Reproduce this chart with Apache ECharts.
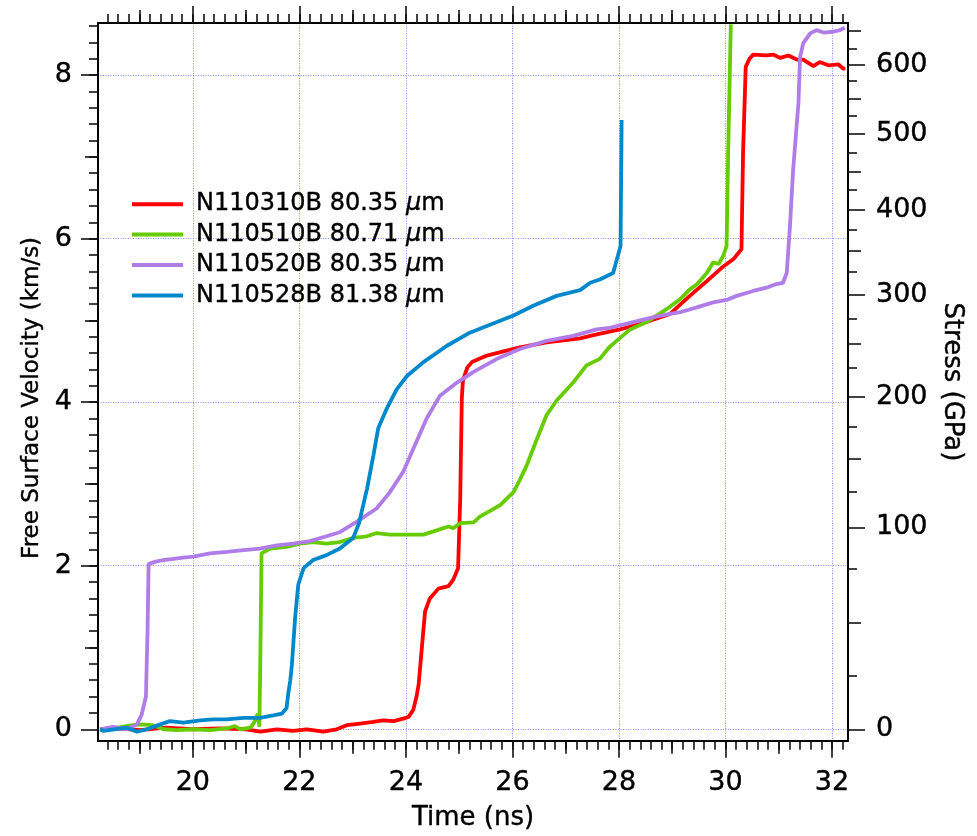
<!DOCTYPE html>
<html>
<head>
  <meta charset="utf-8">
  <title>Free surface velocity</title>
  <style>
    html, body { margin: 0; padding: 0; background: #fff; }
  </style>
</head>
<body>
  <div id="main" style="width: 977px;height:836px;"></div>
</body>
<script src="https://cdn.jsdelivr.net/npm/echarts@6/dist/echarts.min.js"></script>
<script>
  // series names and colours
  let names = ['N110310B 80.35 μm', 'N110510B 80.71 μm', 'N110520B 80.35 μm', 'N110528B 81.38 μm'];
  let colors = ['#ff0000', '#66cc00', '#b07ce8', '#0088cc'];

  // [time (ns), free surface velocity (km/s)]
  let red = [[18.26,0.0],[18.6,0.01],[19.0,-0.01],[19.5,0.02],[20.0,0.0],[20.5,0.01],[21.0,0.0],[21.27,-0.03],[21.58,0.0],[21.88,-0.02],[22.14,0.0],[22.45,-0.03],[22.7,0.0],[22.89,0.05],[23.14,0.07],[23.39,0.09],[23.57,0.11],[23.77,0.1],[23.95,0.13],[24.05,0.15],[24.14,0.24],[24.2,0.4],[24.24,0.55],[24.3,1.0],[24.36,1.44],[24.45,1.6],[24.61,1.72],[24.8,1.75],[24.89,1.83],[24.98,1.97],[25.02,2.82],[25.05,4.04],[25.07,4.26],[25.15,4.42],[25.24,4.49],[25.52,4.57],[25.89,4.63],[26.14,4.67],[26.64,4.73],[27.27,4.78],[27.58,4.83],[28.02,4.89],[28.52,4.98],[28.96,5.08],[29.33,5.3],[29.65,5.48],[29.96,5.66],[30.15,5.75],[30.3,5.87],[30.33,7.05],[30.38,8.1],[30.45,8.2],[30.52,8.25],[30.77,8.24],[30.9,8.25],[31.03,8.21],[31.18,8.24],[31.34,8.19],[31.46,8.19],[31.65,8.11],[31.77,8.16],[31.93,8.12],[32.12,8.13],[32.21,8.08],[32.25,8.08]];
  let green = [[18.26,0.0],[18.5,0.01],[18.76,0.04],[19.01,0.06],[19.25,0.05],[19.45,0.0],[19.7,-0.01],[20.01,0.0],[20.32,-0.01],[20.64,0.01],[20.79,0.04],[20.89,0.0],[21.08,0.02],[21.15,0.08],[21.22,0.19],[21.25,0.03],[21.27,1.0],[21.29,2.15],[21.45,2.21],[21.76,2.23],[22.01,2.27],[22.26,2.29],[22.51,2.27],[22.76,2.29],[23.01,2.34],[23.27,2.36],[23.45,2.4],[23.7,2.38],[24.33,2.38],[24.52,2.42],[24.8,2.48],[24.89,2.46],[25.02,2.52],[25.27,2.53],[25.39,2.6],[25.77,2.74],[26.02,2.9],[26.14,3.05],[26.27,3.23],[26.46,3.55],[26.64,3.84],[26.83,4.02],[27.14,4.24],[27.39,4.45],[27.64,4.53],[27.83,4.68],[28.21,4.89],[28.52,4.98],[28.9,5.14],[29.15,5.26],[29.33,5.38],[29.46,5.44],[29.65,5.58],[29.77,5.71],[29.87,5.69],[29.96,5.79],[30.02,5.91],[30.05,7.05],[30.1,8.62]];
  let purple = [[18.26,0.0],[18.5,0.03],[18.76,0.0],[18.95,0.06],[19.04,0.18],[19.12,0.4],[19.15,1.2],[19.17,2.02],[19.3,2.05],[19.45,2.07],[19.6,2.08],[19.82,2.1],[20.01,2.11],[20.32,2.15],[20.64,2.17],[20.95,2.19],[21.26,2.21],[21.58,2.25],[21.89,2.27],[22.2,2.3],[22.51,2.36],[22.76,2.41],[23.08,2.54],[23.45,2.7],[23.7,2.9],[23.95,3.15],[24.14,3.43],[24.39,3.8],[24.64,4.08],[24.96,4.24],[25.27,4.37],[25.71,4.53],[26.14,4.65],[26.64,4.75],[27.14,4.81],[27.58,4.89],[27.83,4.91],[28.21,4.97],[28.65,5.04],[28.96,5.08],[29.15,5.1],[29.46,5.16],[29.77,5.22],[30.02,5.25],[30.21,5.3],[30.52,5.36],[30.77,5.4],[30.93,5.44],[31.08,5.46],[31.15,5.58],[31.21,6.15],[31.27,6.84],[31.37,7.66],[31.4,8.22],[31.46,8.39],[31.59,8.51],[31.71,8.55],[31.84,8.52],[32.02,8.53],[32.15,8.55],[32.24,8.58]];
  let blue = [[18.26,0.0],[18.32,-0.02],[18.76,0.02],[18.95,-0.03],[19.14,0.0],[19.39,0.06],[19.57,0.1],[19.82,0.08],[20.14,0.11],[20.39,0.12],[20.64,0.12],[20.95,0.14],[21.26,0.14],[21.51,0.17],[21.67,0.19],[21.76,0.26],[21.79,0.43],[21.83,0.6],[21.86,0.79],[21.92,1.36],[21.98,1.77],[22.08,1.97],[22.26,2.07],[22.51,2.13],[22.76,2.21],[23.01,2.34],[23.12,2.52],[23.27,2.94],[23.39,3.35],[23.48,3.68],[23.64,3.92],[23.83,4.16],[24.02,4.32],[24.33,4.49],[24.77,4.69],[25.2,4.85],[25.71,4.98],[26.02,5.06],[26.39,5.18],[26.83,5.3],[27.27,5.37],[27.46,5.46],[27.64,5.5],[27.89,5.58],[27.98,5.79],[28.03,5.91],[28.05,7.45]];

  // tick labels
  let timeTicks = [20, 22, 24, 26, 28, 30, 32];
  let velTicks = [0, 2, 4, 6, 8];
  let stressLabels = ['0', '100', '200', '300', '400', '500', '600'];
  let stressMajorPos = [0, 2.469, 4.061, 5.311, 6.355, 7.281, 8.122];
  let stressMidPos = [1.308, 3.310, 4.719, 5.856, 6.822, 7.716, 8.539];
  let stressMinorPos = [0.650, 1.961, 2.904, 3.696, 4.415, 5.015, 5.591, 6.103, 6.593, 7.053, 7.504, 7.927, 8.325];

  const XMIN = 18.22, XMAX = 32.30, YMIN = -0.141, YMAX = 8.637;
  const FONT = 'DejaVu Sans';

  function steps(a, b, s) {
    let out = [];
    for (let v = a; v <= b + 1e-9; v += s) out.push(Math.round(v * 100) / 100);
    return out;
  }

  let xMid = steps(19, 31, 2);
  let xMinor = steps(18.4, 32.2, 0.2);
  let yMid = steps(1, 7, 2);
  let yMinor = steps(0.2, 8.6, 0.2);

  let gridLine = { show: true, lineStyle: { color: '#8c8cff', width: 1, type: [1, 1.5] } };
  let tickStyle = { color: '#111', width: 1.6 };

  function axis(pos, min, max, ticks, len, extra) {
    let a = {
      type: 'value', position: pos, min: min, max: max, gridIndex: 0,
      axisLine: { show: false, onZero: false },
      axisTick: { show: true, inside: false, length: len, customValues: ticks, lineStyle: tickStyle },
      axisLabel: { show: false },
      splitLine: { show: false },
      minorTick: { show: false },
      silent: true
    };
    return Object.assign(a, extra || {});
  }

  // a thin outline makes the text a little heavier, like the original
  let labelFont = { fontFamily: FONT, fontSize: 27, color: '#000', textBorderColor: '#000', textBorderWidth: 0.4 };
  let nameFont = { fontFamily: FONT, fontSize: 26, color: '#000', textBorderColor: '#000', textBorderWidth: 0.4 };
  let frameLine = { show: true, onZero: false, lineStyle: { color: '#000', width: 2 } };

  let xAxes = [
    axis('bottom', XMIN, XMAX, timeTicks, 17, {
      axisLine: frameLine,
      axisLabel: Object.assign({ show: true, customValues: timeTicks, margin: 29 }, labelFont),
      splitLine: gridLine,
      name: 'Time (ns)', nameLocation: 'middle', nameGap: 64, nameTextStyle: nameFont
    }),
    axis('bottom', XMIN, XMAX, xMid, 13),
    axis('bottom', XMIN, XMAX, xMinor, 9),
    axis('top', XMIN, XMAX, timeTicks, 17, { axisLine: frameLine }),
    axis('top', XMIN, XMAX, xMid, 13),
    axis('top', XMIN, XMAX, xMinor, 9)
  ];

  let yAxes = [
    axis('left', YMIN, YMAX, velTicks, 17, {
      axisLine: frameLine,
      axisLabel: Object.assign({ show: true, customValues: velTicks, margin: 26 }, labelFont),
      splitLine: gridLine,
      name: 'Free Surface Velocity (km/s)', nameLocation: 'middle', nameGap: 54,
      nameTextStyle: Object.assign({}, nameFont, { fontSize: 23, padding: [0, 32, 0, 0] })
    }),
    axis('left', YMIN, YMAX, yMid, 13),
    axis('left', YMIN, YMAX, yMinor, 9),
    axis('right', YMIN, YMAX, stressMajorPos, 17, {
      axisLine: frameLine,
      axisLabel: Object.assign({
        show: true, customValues: stressMajorPos, margin: 28,
        formatter: function (v) {
          let best = 0;
          stressMajorPos.forEach((p, i) => { if (Math.abs(p - v) < Math.abs(stressMajorPos[best] - v)) best = i; });
          return stressLabels[best];
        }
      }, labelFont),
      name: 'Stress (GPa)', nameLocation: 'middle', nameGap: 86, nameRotate: -90, nameTextStyle: nameFont
    }),
    axis('right', YMIN, YMAX, stressMidPos, 13),
    axis('right', YMIN, YMAX, stressMinorPos, 9)
  ];

  let series = [red, green, purple, blue].map((d, i) => ({
    name: names[i],
    type: 'line',
    data: d,
    xAxisIndex: 0,
    yAxisIndex: 0,
    showSymbol: false,
    symbol: 'none',
    lineStyle: { width: 3.8, color: colors[i] },
    itemStyle: { color: colors[i] },
    clip: true
  }));

  var myChart = echarts.init(document.getElementById('main'));

  option = {
    animation: false,
    color: colors,
    grid: { left: 98, right: 129, top: 23, bottom: 93, containLabel: false },
    legend: {
      data: names,
      orient: 'vertical',
      left: 127,
      top: 187,
      icon: 'rect',
      itemWidth: 51,
      itemHeight: 4,
      itemGap: 6,
      selectedMode: false,
      formatter: function (n) {
        let parts = n.split('μ');
        return '{t|' + parts[0] + '}{i|μ}{t|' + parts[1] + '}';
      },
      textStyle: {
        padding: [0, 0, 0, 8],
        rich: {
          t: { fontFamily: FONT, fontSize: 24, color: '#000', lineHeight: 26, textBorderColor: '#000', textBorderWidth: 0.4 },
          i: { fontFamily: FONT, fontSize: 24, color: '#000', fontStyle: 'italic', lineHeight: 26, textBorderColor: '#000', textBorderWidth: 0.4 }
        }
      }
    },
    xAxis: xAxes,
    yAxis: yAxes,
    series: series
  };

  myChart.setOption(option);
</script>
</html>
